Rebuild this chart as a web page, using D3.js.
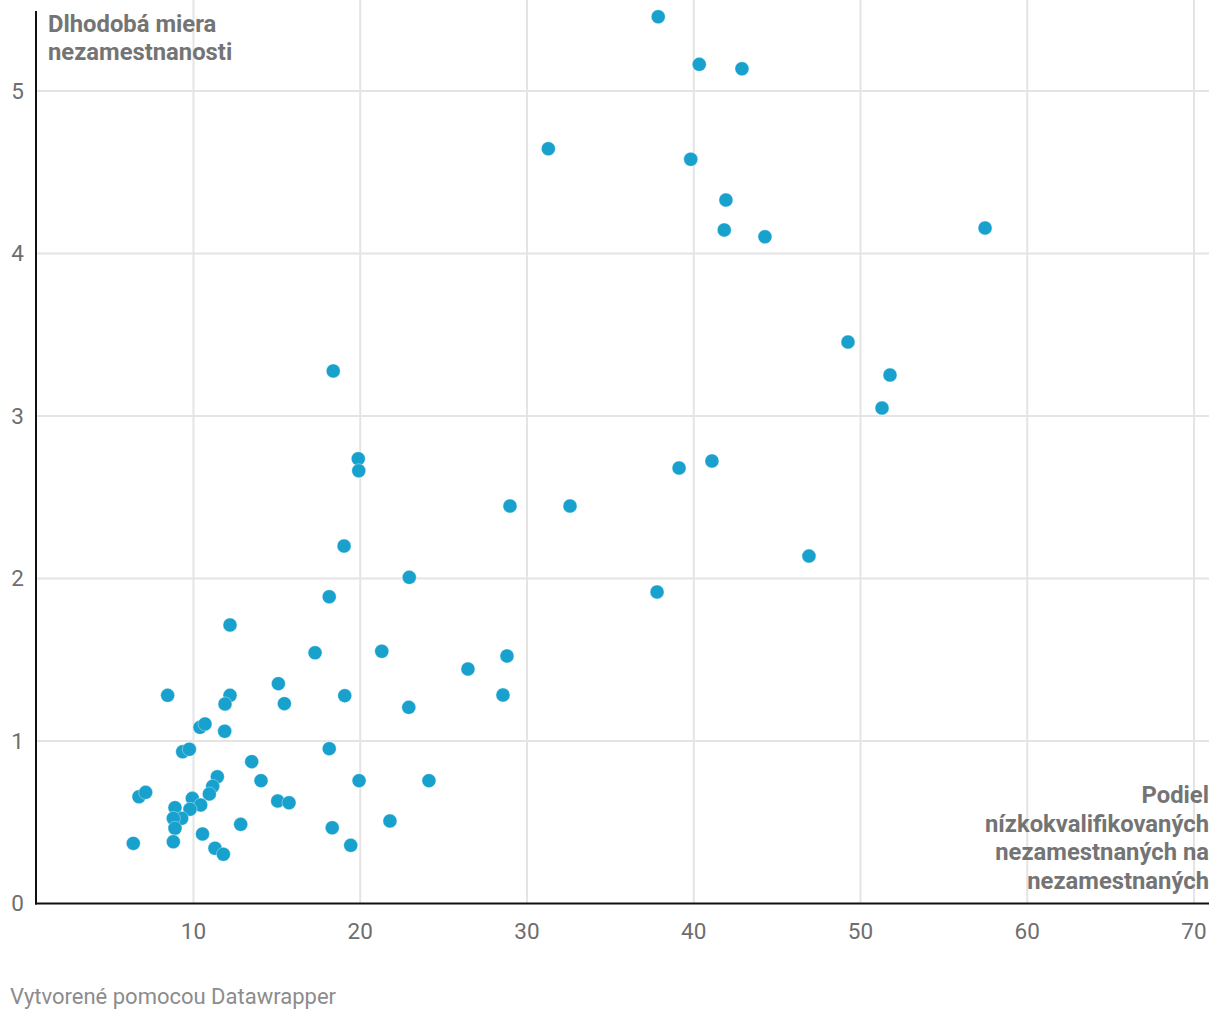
<!DOCTYPE html>
<html><head><meta charset="utf-8">
<script src="https://cdn.jsdelivr.net/npm/d3@7"></script>
<style>
html,body{margin:0;padding:0;background:#fff;}
svg{display:block;font-family:Roboto,"Noto Sans",sans-serif;}
</style></head>
<body>
<svg id="c" width="1220" height="1020"></svg>
<script>
// Podiel nízkokvalifikovaných nezamestnaných (x) vs. dlhodobá miera nezamestnanosti (y)
const xValues = [37.87,40.33,42.89,31.28,39.82,41.93,41.83,44.27,57.47,49.25,51.77,51.29,18.38,19.88,19.91,39.12,41.09,28.98,32.58,46.91,
  19.03,22.94,18.14,37.80,12.19,17.29,21.29,26.46,28.80,8.45,12.19,15.09,15.45,19.07,11.89,22.91,28.56,10.39,10.69,11.87,
  9.35,9.75,18.14,13.49,14.05,19.93,24.12,11.43,6.73,7.13,11.15,10.95,9.93,10.43,15.05,15.73,8.89,9.79,9.29,8.79,
  8.89,12.83,21.78,18.32,10.54,8.79,6.39,11.29,11.79,19.43];
const yValues = [5.457,5.164,5.137,4.645,4.580,4.329,4.145,4.103,4.157,3.455,3.252,3.049,3.277,2.737,2.663,2.680,2.723,2.446,2.446,2.138,
  2.200,2.007,1.888,1.917,1.714,1.543,1.552,1.443,1.523,1.281,1.281,1.353,1.230,1.279,1.228,1.207,1.283,1.084,1.105,1.060,
  0.934,0.949,0.953,0.873,0.756,0.756,0.756,0.780,0.657,0.684,0.721,0.674,0.647,0.606,0.631,0.620,0.590,0.580,0.524,0.524,
  0.463,0.487,0.508,0.466,0.428,0.380,0.370,0.340,0.303,0.358];
const xTicks = [10,20,30,40,50,60,70];
const yTicks = [0,1,2,3,4,5];
const yTitle = ["Dlhodobá miera","nezamestnanosti"];
const xTitle = ["Podiel","nízkokvalifikovaných","nezamestnaných na","nezamestnaných"];
const footer = "Vytvorené pomocou Datawrapper";

const svg = d3.select("#c");
const x = d3.scaleLinear().domain([0.555,70.9]).range([36,1209]);
const y = d3.scaleLinear().domain([0,5.5]).range([903.5,9.75]);

// grid
svg.append("g").selectAll("line").data(xTicks).join("line")
  .attr("x1",d=>x(d)).attr("x2",d=>x(d)).attr("y1",0).attr("y2",903)
  .attr("stroke","#e4e4e4").attr("stroke-width",2);
svg.append("g").selectAll("line").data(yTicks.filter(d=>d>0)).join("line")
  .attr("x1",36).attr("x2",1209).attr("y1",d=>y(d)).attr("y2",d=>y(d))
  .attr("stroke","#e4e4e4").attr("stroke-width",2);

// tick labels
svg.append("g").selectAll("text").data(xTicks).join("text")
  .attr("x",d=>x(d)).attr("y",938.5).attr("text-anchor","middle")
  .attr("font-size",22.5).attr("fill","#6e6e6e").text(d=>d);
svg.append("g").selectAll("text").data(yTicks).join("text")
  .attr("x",24).attr("y",d=>y(d)+7.5).attr("text-anchor","end")
  .attr("font-size",22.5).attr("fill","#6e6e6e").text(d=>d);

// dots
const pts = xValues.map((v,i)=>({x:v,y:yValues[i]}));
svg.append("g").selectAll("circle").data(pts).join("circle")
  .attr("cx",d=>x(d.x)).attr("cy",d=>y(d.y)).attr("r",7)
  .attr("fill","#18a1cd").attr("stroke","#ffffff").attr("stroke-width",0.6).attr("stroke-opacity",0.6);

// axes lines
svg.append("line").attr("x1",36).attr("x2",36).attr("y1",11).attr("y2",904.5)
  .attr("stroke","#111").attr("stroke-width",2);
svg.append("line").attr("x1",35).attr("x2",1209).attr("y1",903.5).attr("y2",903.5)
  .attr("stroke","#111").attr("stroke-width",2);

// titles
svg.append("text").attr("x",48).attr("y",31.5).attr("font-size",23.8).attr("font-weight","bold")
  .attr("fill","#747474").selectAll("tspan").data(yTitle).join("tspan")
  .attr("x",48).attr("dy",(d,i)=>i?28.5:0).text(d=>d);
svg.append("text").attr("x",1209).attr("y",803).attr("font-size",23.8).attr("font-weight","bold")
  .attr("text-anchor","end").attr("fill","#747474").selectAll("tspan").data(xTitle).join("tspan")
  .attr("x",1209).attr("dy",(d,i)=>i?28.5:0).text(d=>d);

svg.append("text").attr("x",10).attr("y",1004).attr("font-size",22).attr("fill","#8c8c8c").text(footer);
</script>
</body></html>
